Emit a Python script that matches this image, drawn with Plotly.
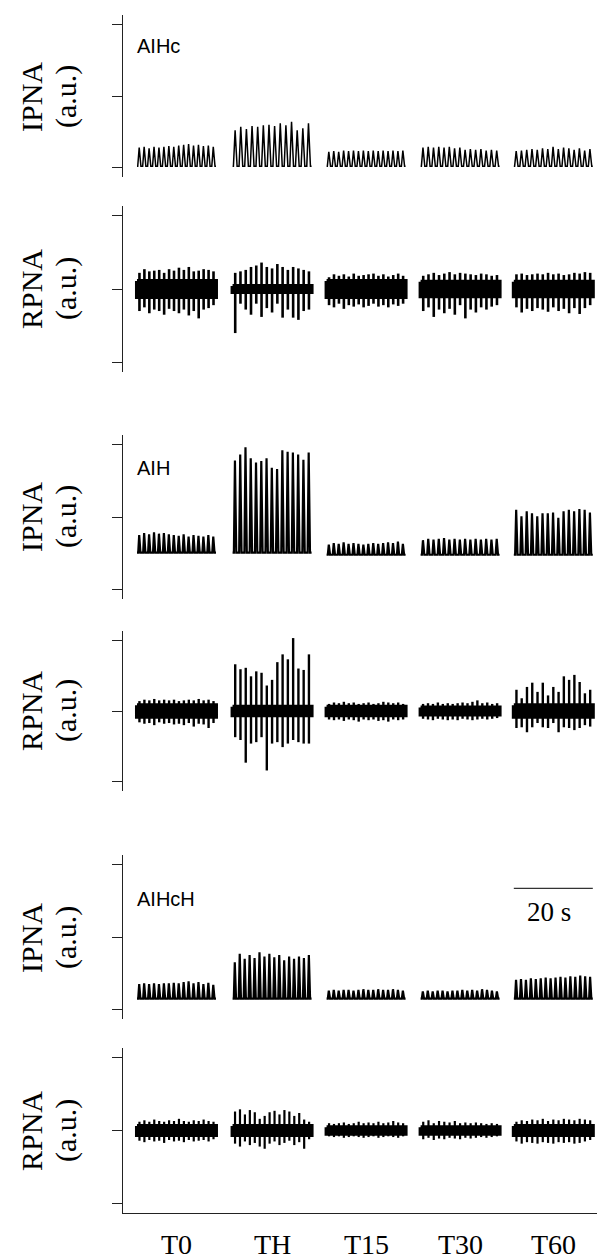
import plotly.graph_objects as go

# ---------------- data ----------------
conditions = ["T0", "TH", "T15", "T30", "T60"]
seg_starts = [0.0, 24.2, 48.0, 71.8, 95.4]   # s, start of each 20-s excerpt
seg_len = 20.0
scale_bar_s = 20.0

# IPNA (integrated phrenic) burst heights above baseline, a.u.
aihc_ipna_base = 0.02
aihc_ipna_T0 = [0.26, 0.27, 0.25, 0.27, 0.26, 0.27, 0.28, 0.27, 0.29, 0.30, 0.31, 0.29, 0.30, 0.28, 0.29, 0.27]
aihc_ipna_TH = [0.50, 0.55, 0.52, 0.56, 0.55, 0.57, 0.58, 0.56, 0.60, 0.57, 0.62, 0.50, 0.53, 0.60]
aihc_ipna_T15 = [0.20, 0.21, 0.20, 0.22, 0.21, 0.22, 0.21, 0.22, 0.21, 0.22, 0.21, 0.22, 0.21, 0.22, 0.21, 0.22]
aihc_ipna_T30 = [0.26, 0.27, 0.26, 0.27, 0.26, 0.27, 0.25, 0.26, 0.23, 0.24, 0.23, 0.24, 0.22, 0.23, 0.22]
aihc_ipna_T60 = [0.21, 0.22, 0.23, 0.24, 0.23, 0.25, 0.24, 0.27, 0.24, 0.26, 0.25, 0.23, 0.25, 0.22, 0.24]

aih_ipna_base = [0.51, 0.51, 0.48, 0.48, 0.48]
aih_ipna_T0 = [0.24, 0.27, 0.25, 0.28, 0.26, 0.27, 0.25, 0.24, 0.23, 0.25, 0.22, 0.24, 0.23, 0.22, 0.24, 0.22]
aih_ipna_TH = [1.27, 1.35, 1.45, 1.30, 1.24, 1.26, 1.30, 1.17, 1.15, 1.41, 1.39, 1.38, 1.35, 1.28, 1.38]
aih_ipna_T15 = [0.14, 0.16, 0.15, 0.17, 0.15, 0.16, 0.15, 0.14, 0.15, 0.16, 0.15, 0.16, 0.17, 0.16, 0.18, 0.15]
aih_ipna_T30 = [0.20, 0.22, 0.21, 0.22, 0.23, 0.21, 0.22, 0.21, 0.22, 0.21, 0.22, 0.21, 0.22, 0.21, 0.22]
aih_ipna_T60 = [0.62, 0.53, 0.60, 0.57, 0.53, 0.57, 0.57, 0.58, 0.51, 0.60, 0.62, 0.60, 0.63, 0.62, 0.58]

aihch_ipna_base = 0.15
aihch_ipna_T0 = [0.20, 0.21, 0.20, 0.21, 0.20, 0.21, 0.21, 0.22, 0.21, 0.23, 0.24, 0.21, 0.23, 0.20, 0.22, 0.19]
aihch_ipna_TH = [0.50, 0.62, 0.55, 0.60, 0.56, 0.64, 0.58, 0.62, 0.57, 0.60, 0.53, 0.58, 0.55, 0.58, 0.56, 0.60]
aihch_ipna_T15 = [0.11, 0.12, 0.11, 0.12, 0.12, 0.11, 0.12, 0.13, 0.12, 0.12, 0.13, 0.12, 0.12, 0.13, 0.12, 0.11]
aihch_ipna_T30 = [0.10, 0.11, 0.10, 0.11, 0.11, 0.10, 0.11, 0.11, 0.12, 0.11, 0.12, 0.11, 0.13, 0.12, 0.11, 0.10]
aihch_ipna_T60 = [0.26, 0.27, 0.26, 0.28, 0.27, 0.28, 0.29, 0.28, 0.29, 0.30, 0.29, 0.31, 0.30, 0.32, 0.31, 0.30]

# RPNA (renal sympathetic): tonic band half-width, burst up / down excursions, a.u.
aihc_rpna_band = [0.11, 0.04, 0.11, 0.10, 0.10]
aihc_rpna_up_T0 = [0.22, 0.27, 0.24, 0.25, 0.26, 0.22, 0.27, 0.25, 0.29, 0.26, 0.30, 0.24, 0.25, 0.27, 0.26, 0.24]
aihc_rpna_dn_T0 = [0.30, 0.25, 0.33, 0.28, 0.30, 0.35, 0.27, 0.30, 0.33, 0.28, 0.36, 0.30, 0.40, 0.28, 0.26, 0.22]
aihc_rpna_up_TH = [0.22, 0.24, 0.26, 0.30, 0.32, 0.36, 0.30, 0.28, 0.34, 0.30, 0.26, 0.30, 0.28, 0.26, 0.24]
aihc_rpna_dn_TH = [0.60, 0.20, 0.28, 0.35, 0.20, 0.38, 0.26, 0.32, 0.20, 0.39, 0.28, 0.39, 0.42, 0.30, 0.28]
aihc_rpna_up_T15 = [0.16, 0.20, 0.18, 0.20, 0.17, 0.21, 0.18, 0.19, 0.20, 0.21, 0.18, 0.20, 0.17, 0.19, 0.21, 0.18]
aihc_rpna_dn_T15 = [0.22, 0.25, 0.20, 0.27, 0.22, 0.24, 0.21, 0.25, 0.23, 0.20, 0.24, 0.22, 0.25, 0.21, 0.23, 0.20]
aihc_rpna_up_T30 = [0.18, 0.20, 0.22, 0.19, 0.21, 0.23, 0.20, 0.22, 0.21, 0.20, 0.19, 0.21, 0.20, 0.18, 0.19]
aihc_rpna_dn_T30 = [0.30, 0.25, 0.38, 0.28, 0.33, 0.27, 0.35, 0.22, 0.40, 0.28, 0.32, 0.25, 0.28, 0.24, 0.22]
aihc_rpna_up_T60 = [0.20, 0.21, 0.19, 0.20, 0.21, 0.20, 0.22, 0.20, 0.21, 0.19, 0.20, 0.22, 0.21, 0.23, 0.22]
aihc_rpna_dn_T60 = [0.25, 0.32, 0.27, 0.30, 0.26, 0.28, 0.31, 0.25, 0.30, 0.27, 0.33, 0.26, 0.34, 0.26, 0.22]

aih_rpna_band = [0.08, 0.06, 0.06, 0.05, 0.08]
aih_rpna_up_T0 = [0.14, 0.16, 0.15, 0.17, 0.15, 0.16, 0.15, 0.16, 0.14, 0.15, 0.16, 0.15, 0.17, 0.15, 0.16, 0.14]
aih_rpna_dn_T0 = [0.16, 0.18, 0.17, 0.20, 0.16, 0.18, 0.17, 0.19, 0.18, 0.20, 0.17, 0.22, 0.18, 0.19, 0.24, 0.17]
aih_rpna_up_TH = [0.66, 0.59, 0.61, 0.49, 0.56, 0.54, 0.36, 0.44, 0.69, 0.80, 0.73, 1.03, 0.60, 0.58, 0.80]
aih_rpna_dn_TH = [0.37, 0.41, 0.73, 0.46, 0.44, 0.37, 0.84, 0.46, 0.44, 0.51, 0.46, 0.41, 0.44, 0.46, 0.46]
aih_rpna_up_T15 = [0.10, 0.12, 0.11, 0.13, 0.11, 0.12, 0.10, 0.11, 0.12, 0.10, 0.11, 0.13, 0.12, 0.11, 0.12, 0.10]
aih_rpna_dn_T15 = [0.12, 0.13, 0.12, 0.14, 0.12, 0.13, 0.15, 0.12, 0.13, 0.12, 0.14, 0.13, 0.15, 0.12, 0.13, 0.12]
aih_rpna_up_T30 = [0.10, 0.11, 0.10, 0.12, 0.10, 0.11, 0.10, 0.11, 0.12, 0.11, 0.13, 0.15, 0.11, 0.12, 0.10, 0.11]
aih_rpna_dn_T30 = [0.11, 0.12, 0.13, 0.11, 0.12, 0.13, 0.12, 0.13, 0.11, 0.12, 0.13, 0.12, 0.11, 0.12, 0.11, 0.10]
aih_rpna_up_T60 = [0.30, 0.18, 0.34, 0.40, 0.27, 0.40, 0.22, 0.34, 0.27, 0.49, 0.44, 0.51, 0.41, 0.25, 0.30]
aih_rpna_dn_T60 = [0.24, 0.23, 0.30, 0.23, 0.17, 0.23, 0.24, 0.17, 0.30, 0.23, 0.24, 0.27, 0.24, 0.20, 0.22]

aihch_rpna_band = [0.06, 0.06, 0.045, 0.045, 0.06]
aihch_rpna_up_T0 = [0.12, 0.14, 0.12, 0.15, 0.13, 0.12, 0.14, 0.13, 0.16, 0.13, 0.12, 0.14, 0.13, 0.15, 0.13, 0.12]
aihch_rpna_dn_T0 = [0.14, 0.16, 0.13, 0.15, 0.14, 0.17, 0.13, 0.15, 0.14, 0.16, 0.13, 0.15, 0.14, 0.13, 0.15, 0.12]
aihch_rpna_up_TH = [0.26, 0.29, 0.22, 0.28, 0.25, 0.16, 0.20, 0.25, 0.27, 0.22, 0.28, 0.26, 0.20, 0.24, 0.15, 0.12]
aihch_rpna_dn_TH = [0.18, 0.22, 0.15, 0.20, 0.17, 0.22, 0.25, 0.18, 0.15, 0.20, 0.17, 0.14, 0.20, 0.16, 0.25, 0.12]
aihch_rpna_up_T15 = [0.10, 0.09, 0.10, 0.11, 0.09, 0.10, 0.12, 0.10, 0.11, 0.10, 0.12, 0.10, 0.11, 0.13, 0.11, 0.10]
aihch_rpna_dn_T15 = [0.08, 0.09, 0.08, 0.10, 0.09, 0.08, 0.09, 0.10, 0.09, 0.08, 0.10, 0.09, 0.08, 0.09, 0.10, 0.08]
aihch_rpna_up_T30 = [0.12, 0.14, 0.10, 0.13, 0.12, 0.11, 0.13, 0.10, 0.11, 0.10, 0.11, 0.10, 0.09, 0.10, 0.09]
aihch_rpna_dn_T30 = [0.12, 0.10, 0.13, 0.11, 0.12, 0.10, 0.11, 0.12, 0.10, 0.11, 0.10, 0.09, 0.10, 0.09, 0.08]
aihch_rpna_up_T60 = [0.12, 0.14, 0.13, 0.15, 0.14, 0.16, 0.13, 0.15, 0.14, 0.16, 0.15, 0.14, 0.16, 0.15, 0.14]
aihch_rpna_dn_T60 = [0.15, 0.18, 0.16, 0.17, 0.18, 0.16, 0.17, 0.18, 0.16, 0.17, 0.16, 0.18, 0.17, 0.15, 0.13]

protocol_labels = ["AIHc", "AIH", "AIHcH"]
panel_signals = ["IPNA", "RPNA", "IPNA", "RPNA", "IPNA", "RPNA"]
unit_label = "(a.u.)"

# ---------------- layout geometry ----------------
W, H = 597, 1260
ML, MR, MT, MB = 123, 0, 0, 47
PH = H - MT - MB  # plot-area height in px


def py(px):
    """pixel row -> paper y"""
    return (H - MB - px) / PH


def pxx(px):
    return (px - ML) / (W - ML - MR)


# (top px, bottom px) of each panel's y-axis
panel_px = [(15, 177), (206, 372), (435, 599), (631, 791), (855, 1019), (1048, 1213)]
ipna_range = [-0.13, 2.13]
rpna_range = [-1.13, 1.13]
x_range = [-3.54, 116.46]

fig = go.Figure()
BLACK = "#000000"


def ipna_trace(heights_list, bases, yref, width, shape):
    on, pk, off = shape
    xs, ys = [], []
    for k, h in enumerate(heights_list):
        s = seg_starts[k]
        base = bases[k] if isinstance(bases, list) else bases
        n = len(h)
        T = seg_len / n
        xs += [s]
        ys += [base]
        for i, a in enumerate(h):
            t0 = s + i * T
            xs += [t0 + on * T, t0 + pk * T, t0 + off * T]
            ys += [base, base + a, base]
        xs += [s + seg_len, None]
        ys += [base, None]
    fig.add_trace(go.Scatter(x=xs, y=ys, mode="lines", yaxis=yref, xaxis="x",
                             line=dict(color=BLACK, width=width), hoverinfo="skip"))


def rpna_traces(bands, ups, dns, yref, spike_w):
    bx, by = [], []
    sx, sy = [], []
    for k in range(5):
        s = seg_starts[k]
        b = bands[k]
        bx += [s, s + seg_len, s + seg_len, s, s, None]
        by += [b, b, -b, -b, b, None]
        n = len(ups[k])
        T = seg_len / n
        for i in range(n):
            c = s + (i + 0.5) * T
            sx += [c, c, None]
            sy += [ups[k][i], -dns[k][i], None]
    fig.add_trace(go.Scatter(x=bx, y=by, mode="lines", fill="toself", fillcolor=BLACK,
                             yaxis=yref, xaxis="x", line=dict(color=BLACK, width=4),
                             hoverinfo="skip"))
    fig.add_trace(go.Scatter(x=sx, y=sy, mode="lines", yaxis=yref, xaxis="x",
                             line=dict(color=BLACK, width=spike_w), hoverinfo="skip"))


ipna_trace([aihc_ipna_T0, aihc_ipna_TH, aihc_ipna_T15, aihc_ipna_T30, aihc_ipna_T60],
           aihc_ipna_base, "y", 1.5, (0.15, 0.45, 0.8))
rpna_traces(aihc_rpna_band,
            [aihc_rpna_up_T0, aihc_rpna_up_TH, aihc_rpna_up_T15, aihc_rpna_up_T30, aihc_rpna_up_T60],
            [aihc_rpna_dn_T0, aihc_rpna_dn_TH, aihc_rpna_dn_T15, aihc_rpna_dn_T30, aihc_rpna_dn_T60],
            "y2", 2.6)
ipna_trace([aih_ipna_T0, aih_ipna_TH, aih_ipna_T15, aih_ipna_T30, aih_ipna_T60],
           aih_ipna_base, "y3", 2.2, (0.25, 0.45, 0.7))
rpna_traces(aih_rpna_band,
            [aih_rpna_up_T0, aih_rpna_up_TH, aih_rpna_up_T15, aih_rpna_up_T30, aih_rpna_up_T60],
            [aih_rpna_dn_T0, aih_rpna_dn_TH, aih_rpna_dn_T15, aih_rpna_dn_T30, aih_rpna_dn_T60],
            "y4", 2.4)
ipna_trace([aihch_ipna_T0, aihch_ipna_TH, aihch_ipna_T15, aihch_ipna_T30, aihch_ipna_T60],
           aihch_ipna_base, "y5", 2.2, (0.25, 0.45, 0.7))
rpna_traces(aihch_rpna_band,
            [aihch_rpna_up_T0, aihch_rpna_up_TH, aihch_rpna_up_T15, aihch_rpna_up_T30, aihch_rpna_up_T60],
            [aihch_rpna_dn_T0, aihch_rpna_dn_TH, aihch_rpna_dn_T15, aihch_rpna_dn_T30, aihch_rpna_dn_T60],
            "y6", 2.2)

# 20-s scale bar on the AIHcH IPNA panel, aligned with the last excerpt
bar_start = seg_starts[-1]
fig.add_trace(go.Scatter(x=[bar_start, bar_start + scale_bar_s], y=[1.67, 1.67], mode="lines",
                         yaxis="y5", xaxis="x", line=dict(color="#333333", width=1.3),
                         hoverinfo="skip"))

layout = dict(
    width=W, height=H, margin=dict(l=ML, r=MR, t=MT, b=MB),
    plot_bgcolor="white", paper_bgcolor="white", showlegend=False,
    xaxis=dict(domain=[0, 1], range=x_range, anchor="y6", showline=True,
               linecolor="#222222", linewidth=1.3, ticks="", showticklabels=False,
               showgrid=False, zeroline=False),
)
ykeys = ["yaxis", "yaxis2", "yaxis3", "yaxis4", "yaxis5", "yaxis6"]
for i, key in enumerate(ykeys):
    top, bot = panel_px[i]
    is_ipna = (i % 2 == 0)
    layout[key] = dict(
        domain=[py(bot), py(top)], anchor="x",
        range=ipna_range if is_ipna else rpna_range,
        tickvals=[0, 1, 2] if is_ipna else [-1, 0, 1],
        ticks="outside", ticklen=10, tickwidth=1.2, tickcolor="#222222",
        showticklabels=False, showline=True, linecolor="#222222", linewidth=1.3,
        showgrid=False, zeroline=False,
    )
fig.update_layout(**layout)

serif = "Liberation Serif, Times New Roman, serif"
sans = "Liberation Sans, Arial, sans-serif"
annotations = []
mid_px = [97, 289, 517, 711, 938, 1131]
for i in range(6):
    annotations.append(dict(
        text=panel_signals[i], textangle=-90,
        xref="paper", yref="paper", x=pxx(31), y=py(mid_px[i]),
        xanchor="center", yanchor="middle", showarrow=False,
        font=dict(family=serif, size=30, color=BLACK)))
    annotations.append(dict(
        text=unit_label, textangle=-90,
        xref="paper", yref="paper", x=pxx(66), y=py(mid_px[i]),
        xanchor="center", yanchor="middle", showarrow=False,
        font=dict(family=serif, size=30, color=BLACK)))
label_px = [46, 468, 899]
for j, lab in enumerate(protocol_labels):
    annotations.append(dict(
        text=lab, xref="paper", yref="paper", x=pxx(135), y=py(label_px[j]),
        xanchor="left", yanchor="middle", showarrow=False,
        font=dict(family=sans, size=20, color=BLACK)))
# condition labels
for k, c in enumerate(conditions):
    annotations.append(dict(
        text=c, xref="x", yref="paper", x=seg_starts[k] + seg_len / 2, y=py(1244),
        xanchor="center", yanchor="middle", showarrow=False,
        font=dict(family=serif, size=28, color=BLACK)))
annotations.append(dict(
    text="20 s", xref="x", yref="paper", x=bar_start + scale_bar_s / 2 - 1, y=py(912),
    xanchor="center", yanchor="middle", showarrow=False,
    font=dict(family=serif, size=27, color=BLACK)))
fig.update_layout(annotations=annotations)

fig.write_html("out.html", config={"displayModeBar": False})

# remove the browser's default page margin so the 597x1260 figure fills the window
with open("out.html", "r", encoding="utf-8") as f:
    html = f.read()
html = html.replace("<head>", "<head><style>html,body{margin:0;padding:0;overflow:hidden;}</style>", 1)
with open("out.html", "w", encoding="utf-8") as f:
    f.write(html)
